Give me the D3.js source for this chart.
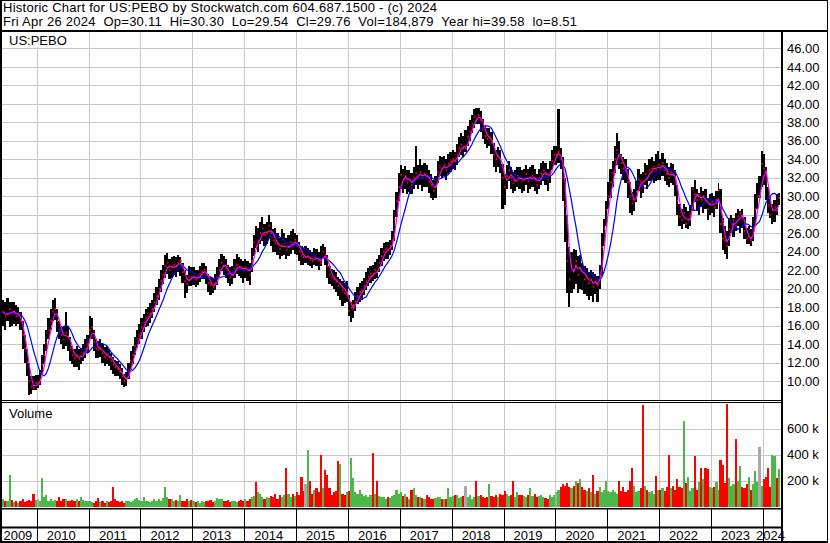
<!DOCTYPE html>
<html>
<head>
<meta charset="utf-8">
<script src="https://cdn.jsdelivr.net/npm/d3@7"></script>
<style>
  body { margin: 0; background: #fff; }
  svg { display: block; }
  text { font-family: "Liberation Sans", Arial, sans-serif; font-size: 13px; fill: #000; }
</style>
</head>
<body>
<script>
/* =========================================
   Historic chart US:PEBO - price bars + volume
   Half-month bars, May 2009 to Apr 2024
   ========================================= */

// Half-month highs (2009 starts in May, 2024 ends in Apr)
const highs = [
  /* 2009 */ 18.8, 18.5, 19.0, 18.6, 18.5, 18.6, 18.2, 18.0, 17.5, 16.5, 15.0, 13.5, 12.0, 10.5, 10.5, 10.6,
  /* 2010 */ 10.6, 11.2, 12.8, 14.0, 15.5, 16.8, 17.8, 18.8, 19.0, 17.8, 16.5, 16.0, 15.8, 17.5, 16.0, 14.8, 13.8, 13.5, 13.8, 13.5, 13.6, 14.0, 14.5, 15.0,
  /* 2011 */ 17.0, 16.8, 15.5, 14.5, 14.3, 14.5, 14.0, 13.7, 13.8, 13.5, 13.0, 12.6, 12.3, 12.2, 11.8, 11.4, 10.8, 11.0, 12.0, 13.2, 13.8, 14.8, 15.5, 16.2,
  /* 2012 */ 16.8, 17.3, 17.8, 18.0, 18.4, 18.8, 19.5, 20.2, 21.0, 22.0, 22.6, 23.6, 23.9, 23.2, 23.4, 23.5, 23.4, 23.6, 23.4, 22.8, 22.0, 21.5, 22.4, 22.3,
  /* 2013 */ 22.3, 22.0, 22.0, 22.5, 22.8, 22.8, 22.5, 21.6, 21.3, 21.2, 21.6, 22.3, 23.2, 23.8, 23.5, 23.2, 22.6, 22.3, 22.4, 23.2, 23.8, 23.4, 23.2, 23.0,
  /* 2014 */ 23.2, 23.0, 22.8, 24.4, 25.8, 26.8, 26.6, 27.2, 27.8, 27.0, 27.2, 28.0, 27.2, 26.5, 26.6, 26.0, 25.5, 26.5, 26.0, 25.5, 25.8, 26.2, 26.4, 26.0,
  /* 2015 */ 25.8, 25.0, 24.6, 24.4, 24.6, 24.4, 24.2, 24.0, 24.4, 24.3, 24.0, 24.6, 24.8, 24.5, 23.6, 22.4, 22.1, 22.0, 21.8, 21.3, 21.0, 20.8, 20.6, 20.8,
  /* 2016 */ 19.3, 18.6, 18.8, 19.6, 20.2, 20.6, 20.8, 21.2, 21.8, 22.2, 22.5, 22.6, 22.9, 23.2, 23.6, 24.4, 24.9, 25.0, 25.0, 25.3, 26.2, 28.5, 30.5, 32.5,
  /* 2017 */ 33.4, 33.0, 33.3, 32.8, 32.8, 32.5, 33.2, 35.4, 33.4, 34.0, 33.4, 33.6, 33.4, 32.8, 32.4, 31.8, 32.2, 33.8, 34.3, 34.2, 34.4, 34.0, 34.6, 34.8,
  /* 2018 */ 35.0, 34.8, 35.6, 36.4, 36.8, 36.5, 37.2, 37.6, 38.2, 38.8, 39.4, 39.6, 39.6, 39.2, 38.4, 37.6, 37.4, 37.4, 37.0, 35.8, 35.0, 35.3, 35.0, 33.5,
  /* 2019 */ 32.4, 33.4, 33.8, 33.2, 32.6, 32.8, 33.2, 33.2, 32.8, 33.0, 33.4, 33.0, 33.2, 33.4, 33.0, 32.4, 33.0, 33.6, 33.8, 33.6, 33.0, 33.8, 35.0, 35.4,
  /* 2020 */ 35.4, 39.4, 35.2, 34.2, 32.0, 28.0, 24.5, 24.0, 24.3, 24.2, 23.5, 23.6, 22.8, 22.4, 22.2, 21.8, 22.0, 21.8, 21.6, 21.4, 22.6, 26.0, 27.5, 29.5,
  /* 2021 */ 31.5, 33.0, 33.8, 35.4, 36.8, 36.0, 34.6, 34.2, 34.0, 33.0, 31.5, 30.5, 30.8, 31.6, 33.0, 32.4, 32.6, 33.6, 33.4, 34.0, 34.2, 33.8, 34.6, 34.9,
  /* 2022 */ 34.0, 34.7, 34.0, 33.6, 33.2, 33.6, 33.5, 32.8, 31.2, 29.2, 28.6, 29.2, 28.8, 28.4, 29.0, 31.0, 31.8, 30.8, 30.4, 31.0, 30.6, 30.8, 29.8, 30.2,
  /* 2023 */ 30.4, 30.0, 30.6, 31.4, 30.8, 27.6, 26.8, 26.2, 27.6, 28.0, 27.6, 28.2, 28.6, 28.4, 28.6, 27.8, 26.6, 26.8, 26.4, 27.8, 30.2, 31.4, 32.2, 34.9,
  /* 2024 */ 34.6, 33.2, 31.0, 30.0, 29.2, 29.6, 30.2, 30.4
];

const lows = [
  /* 2009 */ 16.0, 15.5, 16.5, 15.8, 16.0, 16.2, 16.0, 16.2, 15.5, 13.5, 12.0, 10.5, 8.5, 8.6, 9.0, 9.0,
  /* 2010 */ 9.2, 9.6, 10.8, 11.8, 13.2, 14.5, 15.5, 16.5, 16.6, 15.3, 14.5, 14.0, 13.5, 13.8, 13.2, 12.2, 11.8, 11.5, 11.5, 11.2, 11.8, 12.2, 12.5, 13.0,
  /* 2011 */ 14.5, 14.6, 13.2, 12.5, 12.5, 12.6, 12.0, 11.6, 11.8, 11.6, 11.2, 10.8, 10.5, 10.5, 10.2, 9.6, 9.4, 9.5, 10.2, 11.2, 11.8, 12.8, 13.6, 14.0,
  /* 2012 */ 14.6, 15.3, 15.8, 16.0, 16.3, 16.8, 17.5, 18.2, 18.8, 19.6, 20.5, 21.2, 21.6, 21.0, 21.2, 21.5, 21.3, 21.8, 21.4, 20.6, 19.0, 19.5, 20.3, 20.3,
  /* 2013 */ 20.4, 20.2, 20.4, 20.7, 21.0, 21.0, 20.5, 19.6, 19.3, 19.5, 19.8, 20.4, 21.2, 21.9, 21.5, 21.2, 20.6, 20.3, 20.5, 21.2, 21.6, 21.4, 21.2, 20.6,
  /* 2014 */ 21.2, 20.8, 20.4, 21.8, 23.5, 24.4, 24.0, 24.8, 25.2, 24.6, 24.8, 25.4, 24.6, 24.0, 24.0, 23.6, 23.2, 23.5, 23.6, 23.2, 23.5, 23.8, 24.2, 23.8,
  /* 2015 */ 23.6, 23.0, 22.6, 22.6, 22.8, 22.6, 22.4, 22.2, 22.6, 22.5, 22.0, 22.4, 23.2, 22.6, 21.2, 20.5, 20.3, 20.0, 19.6, 19.2, 18.8, 18.1, 18.4, 18.6,
  /* 2016 */ 17.0, 16.4, 16.8, 17.6, 18.3, 18.6, 18.8, 19.3, 19.8, 20.3, 20.6, 20.8, 21.0, 21.2, 21.8, 22.4, 23.0, 23.2, 23.2, 23.6, 24.2, 25.2, 27.8, 29.5,
  /* 2017 */ 30.8, 30.4, 30.8, 30.2, 30.5, 30.2, 30.8, 31.2, 30.8, 31.2, 30.6, 31.0, 31.0, 30.4, 29.8, 29.6, 29.8, 31.4, 32.2, 32.0, 32.2, 31.8, 32.4, 32.6,
  /* 2018 */ 33.0, 32.8, 33.4, 34.2, 34.5, 34.2, 34.8, 35.4, 36.0, 36.8, 37.4, 37.8, 37.8, 37.0, 36.2, 35.6, 35.2, 35.4, 34.6, 33.2, 32.6, 33.2, 32.5, 28.6,
  /* 2019 */ 29.0, 30.8, 31.6, 30.8, 30.4, 30.6, 31.0, 30.8, 30.4, 30.6, 31.2, 30.4, 30.8, 31.0, 30.6, 30.2, 30.8, 31.2, 31.6, 31.2, 30.6, 31.4, 32.8, 33.4,
  /* 2020 */ 33.4, 33.6, 33.0, 29.5, 25.0, 19.5, 18.0, 19.5, 20.0, 20.5, 19.5, 20.0, 19.8, 19.4, 19.2, 18.8, 19.2, 18.6, 19.4, 18.5, 20.0, 21.4, 24.6, 26.8,
  /* 2021 */ 28.6, 29.8, 31.0, 32.5, 33.4, 33.0, 32.4, 31.8, 31.4, 29.8, 28.2, 28.0, 28.4, 29.4, 30.6, 29.8, 30.4, 31.2, 30.8, 31.6, 31.8, 31.4, 31.6, 31.8,
  /* 2022 */ 31.8, 32.2, 31.6, 31.2, 31.0, 31.4, 31.2, 30.0, 28.0, 26.8, 26.4, 27.0, 26.6, 26.4, 26.8, 28.4, 29.4, 28.4, 28.0, 28.8, 28.2, 28.6, 27.4, 28.0,
  /* 2023 */ 28.2, 27.8, 28.6, 29.4, 26.0, 24.2, 23.8, 23.2, 24.6, 26.0, 25.6, 26.2, 26.8, 26.0, 26.6, 25.4, 24.8, 24.8, 24.6, 25.2, 26.8, 28.6, 29.8, 31.0,
  /* 2024 */ 31.2, 29.6, 28.2, 27.6, 27.0, 27.2, 28.0, 29.0
];

const closes = [
  /* 2009 */ 17.5, 17.0, 17.2, 17.8, 17.3, 17.5, 17.0, 17.3, 16.5, 15.0, 13.5, 12.0, 10.0, 9.4, 9.2, 9.8,
  /* 2010 */ 9.8, 10.2, 11.8, 12.8, 14.2, 15.5, 16.5, 17.5, 17.8, 16.5, 15.5, 15.0, 14.5, 15.2, 14.8, 13.5, 12.8, 12.5, 12.8, 12.4, 12.7, 13.0, 13.5, 14.0,
  /* 2011 */ 15.5, 15.8, 14.2, 13.5, 13.4, 13.6, 13.0, 12.6, 12.9, 12.6, 12.2, 11.8, 11.5, 11.3, 11.0, 10.5, 10.0, 10.2, 11.0, 12.2, 12.8, 13.8, 14.5, 15.0,
  /* 2012 */ 15.8, 16.3, 16.8, 17.0, 17.3, 17.8, 18.5, 19.2, 20.0, 20.8, 21.5, 22.5, 22.8, 22.0, 22.3, 22.6, 22.4, 22.8, 23.0, 21.8, 20.8, 20.5, 21.3, 21.2,
  /* 2013 */ 21.3, 21.0, 21.2, 21.6, 21.8, 22.0, 21.5, 20.6, 20.4, 20.2, 20.6, 21.2, 22.0, 22.8, 22.5, 22.2, 21.6, 21.2, 21.5, 22.2, 22.6, 22.3, 22.2, 22.0,
  /* 2014 */ 22.3, 22.0, 21.5, 23.0, 25.0, 24.6, 25.2, 26.0, 26.5, 25.8, 26.0, 26.8, 26.0, 25.2, 24.9, 24.8, 24.3, 24.6, 24.8, 24.2, 24.5, 25.0, 24.8, 25.3,
  /* 2015 */ 24.6, 24.0, 23.6, 23.4, 23.4, 23.5, 23.2, 23.0, 23.4, 23.3, 23.0, 22.8, 24.0, 23.6, 22.4, 21.5, 21.2, 21.0, 20.8, 20.3, 20.5, 19.8, 19.5, 19.6,
  /* 2016 */ 17.6, 17.9, 18.2, 18.6, 19.2, 19.6, 19.8, 20.3, 20.8, 21.3, 21.6, 21.4, 22.0, 21.8, 22.8, 23.5, 24.0, 24.3, 24.2, 24.6, 25.2, 27.5, 29.5, 31.0,
  /* 2017 */ 32.3, 31.8, 32.2, 31.5, 31.8, 31.2, 32.0, 32.5, 32.0, 32.6, 32.0, 32.4, 32.2, 31.6, 31.2, 30.6, 31.0, 32.6, 33.2, 33.0, 33.4, 32.8, 33.5, 33.8,
  /* 2018 */ 34.0, 33.8, 34.5, 35.2, 35.6, 35.2, 35.2, 36.4, 37.0, 37.8, 38.6, 38.3, 38.8, 38.2, 37.2, 36.5, 36.2, 36.4, 35.8, 34.5, 34.0, 34.4, 34.0, 32.0,
  /* 2019 */ 31.0, 32.2, 32.8, 32.0, 31.4, 31.6, 32.2, 32.0, 31.6, 31.8, 32.4, 31.6, 32.0, 32.2, 31.8, 31.2, 32.0, 32.4, 32.8, 32.4, 31.8, 32.6, 33.8, 34.5,
  /* 2020 */ 34.5, 34.8, 34.0, 32.0, 29.0, 23.0, 21.0, 22.5, 22.0, 23.0, 21.5, 22.2, 21.8, 21.0, 21.2, 20.6, 21.0, 20.2, 20.8, 20.4, 21.5, 24.5, 26.5, 28.5,
  /* 2021 */ 30.0, 31.5, 32.5, 34.0, 35.0, 34.4, 33.6, 33.0, 32.8, 31.5, 30.0, 29.2, 29.6, 30.5, 31.8, 31.6, 31.2, 32.4, 32.0, 32.8, 33.0, 33.2, 32.8, 33.4,
  /* 2022 */ 33.0, 33.6, 32.8, 32.4, 32.0, 32.6, 32.4, 31.5, 29.5, 27.8, 27.4, 28.2, 27.0, 27.4, 28.0, 30.8, 30.2, 29.6, 30.2, 29.6, 30.0, 29.4, 28.6, 29.2,
  /* 2023 */ 29.4, 28.8, 29.6, 30.6, 27.0, 25.4, 25.2, 24.6, 26.5, 27.0, 27.4, 26.8, 27.8, 28.2, 27.8, 26.2, 25.4, 25.6, 25.2, 26.4, 28.6, 30.0, 30.0, 33.5,
  /* 2024 */ 33.0, 31.8, 29.0, 28.0, 28.6, 28.8, 28.4, 29.8
];

// Volume, thousands of shares
const volumes = [
  /* 2009 */ 60, 45, 40, 240, 50, 35, 45, 30, 40, 55, 35, 45, 50, 40, 95, 50,
  /* 2010 */ 55, 45, 220, 70, 90, 45, 60, 40, 50, 40, 70, 45, 55, 60, 40, 45, 50, 45, 55, 40, 75, 50, 45, 40,
  /* 2011 */ 40, 35, 30, 45, 65, 35, 40, 30, 45, 35, 40, 150, 60, 40, 35, 45, 30, 40, 45, 35, 40, 60, 65, 50,
  /* 2012 */ 45, 70, 40, 45, 35, 40, 60, 45, 55, 40, 65, 150, 70, 55, 60, 45, 50, 40, 85, 45, 40, 55, 40, 50,
  /* 2013 */ 40, 35, 45, 30, 40, 35, 45, 40, 50, 35, 45, 65, 55, 60, 45, 40, 50, 35, 40, 45, 35, 40, 50, 45,
  /* 2014 */ 55, 45, 60, 70, 80, 185, 110, 95, 70, 60, 75, 65, 80, 70, 100, 60, 85, 70, 90, 300, 95, 70, 100, 80,
  /* 2015 */ 110, 90, 225, 120, 175, 435, 200, 100, 130, 140, 110, 400, 140, 280, 240, 140, 90, 110, 120, 350, 330, 100, 90, 110,
  /* 2016 */ 120, 370, 220, 110, 100, 130, 95, 80, 85, 70, 90, 410, 100, 200, 80, 70, 75, 60, 70, 65, 80, 90, 130, 95,
  /* 2017 */ 110, 80, 100, 70, 60, 130, 140, 90, 75, 70, 65, 60, 90, 70, 55, 60, 65, 70, 75, 60, 55, 60, 140, 70,
  /* 2018 */ 80, 85, 90, 65, 75, 80, 160, 70, 85, 60, 75, 195, 80, 90, 70, 65, 70, 175, 80, 75, 90, 70, 95, 90,
  /* 2019 */ 120, 100, 80, 90, 195, 75, 110, 90, 85, 80, 70, 90, 140, 80, 95, 75, 80, 90, 70, 65, 60, 85, 75, 90,
  /* 2020 */ 110, 130, 150, 175, 160, 180, 150, 140, 160, 200, 180, 210, 150, 130, 120, 140, 110, 245, 100, 120, 150, 110, 130, 200,
  /* 2021 */ 120, 110, 130, 115, 100, 195, 120, 150, 110, 130, 195, 300, 160, 110, 120, 140, 780, 160, 130, 110, 120, 100, 235, 130,
  /* 2022 */ 130, 140, 120, 150, 400, 140, 160, 130, 210, 150, 140, 660, 180, 230, 120, 140, 385, 130, 190, 300, 210, 300, 290, 150,
  /* 2023 */ 140, 150, 190, 130, 360, 320, 180, 790, 220, 160, 170, 520, 200, 310, 150, 140, 170, 230, 130, 170, 270, 190, 460, 160,
  /* 2024 */ 210, 230, 300, 150, 400, 390, 220, 290
];

const priceTicks = d3.range(10, 47, 2);
const volumeTicks = [200, 400, 600];
const yearLabels = d3.range(2009, 2025);

// double gaps kept with no-break spaces
const headerLine1 = "Historic Chart for US:PEBO by Stockwatch.com 604.687.1500 - (c) 2024";
const headerLine2 = "Fri Apr 26 2024\u00a0 Op=30.11\u00a0 Hi=30.30\u00a0 Lo=29.54\u00a0 Cl=29.76\u00a0 Vol=184,879\u00a0 Year hi=39.58\u00a0 lo=8.51";

// Dimensions
const width = 830;
const height = 543;
const plot = { left: 2, right: 781, priceTop: 32, priceBottom: 400, volTop: 403, volBottom: 508 };

// Period start / end dates (two per month, from 1 May 2009)
const periodStart = (i) => new Date(2009, 4 + Math.floor(i / 2), i % 2 ? 16 : 1);
const periodEnd = (i) => (i % 2 ? new Date(2009, 5 + Math.floor(i / 2), 1) : new Date(2009, 4 + Math.floor(i / 2), 16));

const bars = closes.map((c, i) => ({
  i,
  start: periodStart(i),
  end: periodEnd(i),
  hi: highs[i],
  lo: lows[i],
  close: c,
  vol: volumes[i],
  dir: i === 0 ? 1 : Math.sign(c - closes[i - 1])
}));

// Scales
const x = d3.scaleTime().domain([new Date(2009, 4, 1), new Date(2024, 4, 8)]).range([plot.left, plot.right]);
const yPrice = d3.scaleLinear().domain([10, 46]).range([381, 48.4]);
const yVol = d3.scaleLinear().domain([0, 600]).range([506.5, 428.5]);

// Moving averages of the closes (about 30 and 100 trading days)
function sma(arr, n) {
  return arr.map((_, i) => d3.mean(arr.slice(Math.max(0, i - n + 1), i + 1)));
}
const maShort = sma(closes, 3);
const maLong = sma(closes, 9);

const svg = d3.select("body").append("svg").attr("width", width).attr("height", height);
svg.append("rect").attr("width", width).attr("height", height).attr("fill", "#fff");

const defs = svg.append("defs");
defs.append("clipPath").attr("id", "clipPrice").append("rect")
  .attr("x", plot.left).attr("y", plot.priceTop)
  .attr("width", plot.right - plot.left).attr("height", plot.priceBottom - plot.priceTop - 1);
defs.append("clipPath").attr("id", "clipVol").append("rect")
  .attr("x", plot.left).attr("y", plot.volTop)
  .attr("width", plot.right - plot.left).attr("height", plot.volBottom - plot.volTop);

const gridColor = "#c8c8c8";
const yearStarts = d3.range(2010, 2025).map((y) => new Date(y, 0, 1));

// Grid - price panel
svg.append("g").selectAll("line").data(priceTicks).enter().append("line")
  .attr("x1", plot.left).attr("x2", plot.right)
  .attr("y1", (d) => Math.round(yPrice(d)) + 0.5).attr("y2", (d) => Math.round(yPrice(d)) + 0.5)
  .attr("stroke", gridColor);

svg.append("g").selectAll("line").data(yearStarts).enter().append("line")
  .attr("x1", (d) => Math.round(x(d)) + 0.5).attr("x2", (d) => Math.round(x(d)) + 0.5)
  .attr("y1", plot.priceTop).attr("y2", plot.priceBottom)
  .attr("stroke", gridColor);

// Grid - volume panel
svg.append("g").selectAll("line").data(volumeTicks).enter().append("line")
  .attr("x1", plot.left).attr("x2", plot.right)
  .attr("y1", (d) => Math.round(yVol(d)) + 0.5).attr("y2", (d) => Math.round(yVol(d)) + 0.5)
  .attr("stroke", gridColor);

svg.append("g").selectAll("line").data(yearStarts).enter().append("line")
  .attr("x1", (d) => Math.round(x(d)) + 0.5).attr("x2", (d) => Math.round(x(d)) + 0.5)
  .attr("y1", plot.volTop).attr("y2", plot.volBottom)
  .attr("stroke", gridColor);

// Symbol label (white box hides grid)
svg.append("rect").attr("x", 2).attr("y", 32).attr("width", 68).attr("height", 15).attr("fill", "#fff");
svg.append("text").attr("x", 9).attr("y", 45).text("US:PEBO");

// Price bars
const gPrice = svg.append("g").attr("clip-path", "url(#clipPrice)");

gPrice.selectAll(".bar").data(bars).enter().append("rect")
  .attr("class", "bar")
  .attr("x", (d) => x(d.start))
  .attr("y", (d) => yPrice(d.hi))
  .attr("width", (d) => Math.max(1, x(d.end) - x(d.start)))
  .attr("height", (d) => yPrice(d.lo) - yPrice(d.hi))
  .attr("fill", "#000")
  .attr("shape-rendering", "crispEdges");

// Close ticks
gPrice.selectAll(".tick-close").data(bars).enter().append("rect")
  .attr("class", "tick-close")
  .attr("x", (d) => x(d.end) - 1.5)
  .attr("y", (d) => yPrice(d.close) - 1)
  .attr("width", 1.5)
  .attr("height", 2)
  .attr("fill", "#ff0000");

// Moving averages
const midX = (d) => (x(d.start) + x(d.end)) / 2;
const lineLong = d3.line().x((d) => midX(d)).y((d) => yPrice(maLong[d.i]));
const lineShort = d3.line().x((d) => midX(d)).y((d) => yPrice(maShort[d.i]));

gPrice.append("path").datum(bars).attr("d", lineLong)
  .attr("fill", "none").attr("stroke", "#0000ff").attr("stroke-width", 1.2);
gPrice.append("path").datum(bars).attr("d", lineShort)
  .attr("fill", "none").attr("stroke", "#ff00ff").attr("stroke-width", 1.2);

// Volume bars
const volColor = (d) => (d.dir > 0 ? "#4cb848" : d.dir < 0 ? "#ff0000" : "#a8a8a8");
svg.append("g").attr("clip-path", "url(#clipVol)")
  .selectAll("rect").data(bars).enter().append("rect")
  .attr("x", (d) => x(d.start))
  .attr("y", (d) => yVol(d.vol))
  .attr("width", (d) => Math.max(1, x(d.end) - x(d.start)))
  .attr("height", (d) => yVol(0) - yVol(d.vol))
  .attr("fill", volColor)
  .attr("shape-rendering", "crispEdges");

svg.append("text").attr("x", 9).attr("y", 418).text("Volume");

// Right axes
const axisPrice = d3.axisRight(yPrice).tickValues(priceTicks).tickFormat(d3.format(".2f")).tickSize(0).tickPadding(6);
svg.append("g").attr("transform", `translate(${plot.right},0)`).call(axisPrice)
  .call((g) => g.select(".domain").remove());

const axisVol = d3.axisRight(yVol).tickValues(volumeTicks).tickFormat((d) => `${d} k`).tickSize(0).tickPadding(6);
svg.append("g").attr("transform", `translate(${plot.right},0)`).call(axisVol)
  .call((g) => g.select(".domain").remove());

// Frame lines
const black = "#000";
const frame = svg.append("g").attr("fill", black);
frame.append("rect").attr("x", 0).attr("y", 0).attr("width", 828).attr("height", 1);
frame.append("rect").attr("x", 0).attr("y", 0).attr("width", 2).attr("height", height);
frame.append("rect").attr("x", 827).attr("y", 0).attr("width", 1).attr("height", height);
frame.append("rect").attr("x", 0).attr("y", 30).attr("width", 828).attr("height", 2);
frame.append("rect").attr("x", 0).attr("y", 400).attr("width", 782).attr("height", 1);
frame.append("rect").attr("x", 0).attr("y", 402).attr("width", 782).attr("height", 1);
frame.append("rect").attr("x", 781).attr("y", 31).attr("width", 2).attr("height", height - 31);
frame.append("rect").attr("x", 0).attr("y", 508).attr("width", 782).attr("height", 1.5);
frame.append("rect").attr("x", 0).attr("y", 526.5).attr("width", 782).attr("height", 2);
frame.append("rect").attr("x", 0).attr("y", 541).attr("width", 828).attr("height", 2);

// Year dividers and labels
svg.append("g").selectAll("line").data(yearStarts).enter().append("line")
  .attr("x1", (d) => Math.round(x(d)) + 0.5).attr("x2", (d) => Math.round(x(d)) + 0.5)
  .attr("y1", 508).attr("y2", 541)
  .attr("stroke", black);

const [d0, d1] = x.domain();
svg.append("g").selectAll("text").data(yearLabels).enter().append("text")
  .attr("x", (y) => {
    const a = x(Math.max(+d0, +new Date(y, 0, 1)));
    const b = x(Math.min(+d1, +new Date(y + 1, 0, 1)));
    return (a + b) / 2 - 1.5;
  })
  .attr("y", 539.5)
  .attr("text-anchor", "middle")
  .text((y) => y);

// Header (widths pinned to the reference)
svg.append("text").attr("x", 3).attr("y", 12)
  .attr("textLength", 434).attr("lengthAdjust", "spacing").text(headerLine1);
svg.append("text").attr("x", 3).attr("y", 26)
  .attr("textLength", 574).attr("lengthAdjust", "spacing").text(headerLine2);
</script>
</body>
</html>
